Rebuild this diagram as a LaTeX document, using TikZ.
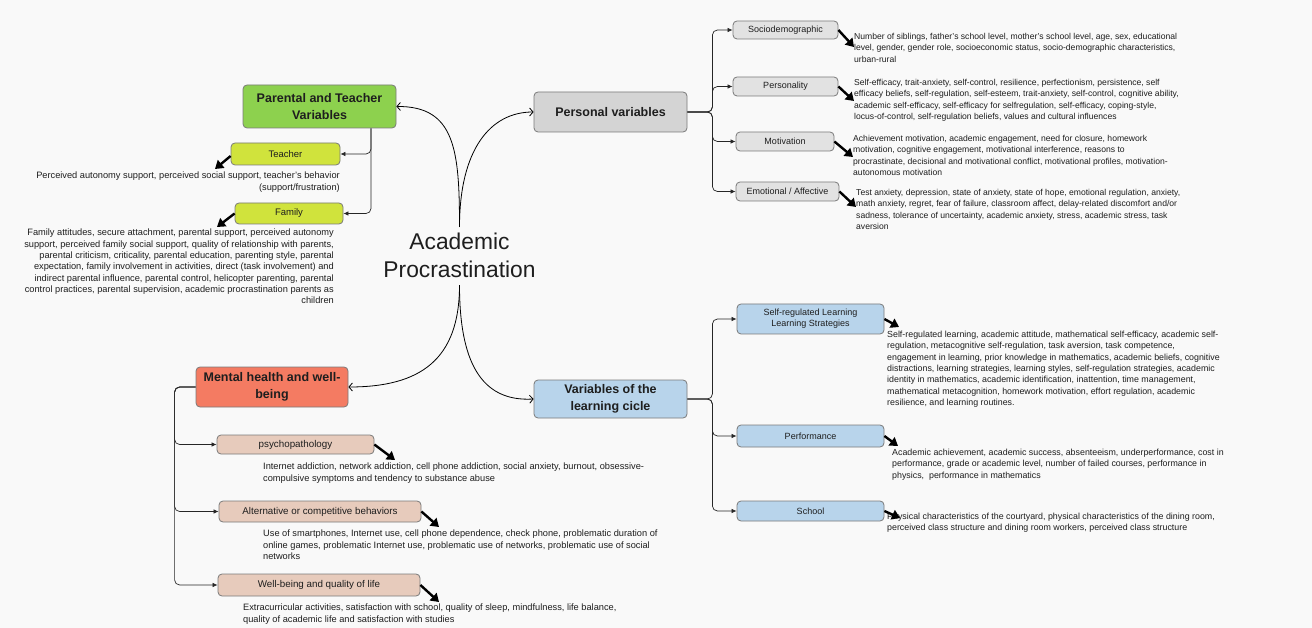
\documentclass[tikz,border=0pt]{standalone}
\usepackage{fontspec}
\setmainfont{Liberation Sans}
\usetikzlibrary{arrows.meta}
\definecolor{bg}{HTML}{F9F9F9}
\definecolor{cgreen}{HTML}{8DD14E}
\definecolor{cyel}{HTML}{D0E33C}
\definecolor{cgray}{HTML}{D4D4D4}
\definecolor{cgrayl}{HTML}{E2E2E2}
\definecolor{cblue}{HTML}{B8D4EB}
\definecolor{cred}{HTML}{F47B62}
\definecolor{ctan}{HTML}{E7CBBC}
\definecolor{cedge}{HTML}{7A7A7A}
\definecolor{ink}{HTML}{1E1E1E}
\tikzset{
  box/.style={draw=cedge, line width=0.8pt, rounded corners=4pt, inner sep=0pt, align=center, text=ink},
  head/.style={box, font=\bfseries\fontsize{12.5}{17}\selectfont},
  sub/.style={box, font=\fontsize{9}{11}\selectfont},
  subL/.style={box, font=\fontsize{9.8}{11}\selectfont},
  txtR/.style={inner sep=0pt, anchor=north west, align=left, text=ink, font=\fontsize{8.6}{11.3}\selectfont},
  txtB/.style={inner sep=0pt, anchor=north west, align=left, text=ink, font=\fontsize{8.85}{11.3}\selectfont},
  txtL/.style={inner sep=0pt, anchor=north west, align=left, text=ink, font=\fontsize{9.25}{11.3}\selectfont},
  branch/.style={draw=black!85, line width=0.7pt, rounded corners=5pt, -{Latex[length=5pt,width=4.5pt]}},
  fat/.style={line width=2.4pt, -{Triangle[length=8pt,width=10pt]}},
  main/.style={line width=0.8pt, -{Straight Barb[length=3.5pt,width=8pt]}}
}
\begin{document}
\begin{tikzpicture}[x=1pt,y=-1pt]
\useasboundingbox (0,0) rectangle (1312,628);
\fill[bg] (0,0) rectangle (1312,628);

% title
\node[inner sep=0pt, anchor=north, align=center, text=ink, font=\fontsize{22.8}{28}\selectfont] (title) at (459.5,233) {Academic\\Procrastination};

% main boxes
\node[head, fill=cgreen, minimum width=153pt, minimum height=43pt] (ptv) at (319.5,106.5) {Parental and Teacher\\Variables};
\node[head, fill=cgray, minimum width=153pt, minimum height=40pt] (pv) at (610.5,112) {Personal variables};
\node[head, fill=cblue, minimum width=153pt, minimum height=38pt] (lc) at (610.5,399) {Variables of the\\learning cicle};
\node[head, fill=cred, minimum width=152pt, minimum height=40pt] (mh) at (272,387) {Mental health and well-\\being};

% main curves
\draw[main] ([yshift=6pt]title.north) .. controls (459.5,150) and (455,106) .. (ptv.east);
\draw[main] ([yshift=6pt]title.north) .. controls (459.5,150) and (490,112) .. (pv.west);
\draw[main] ([yshift=-7pt]title.south) .. controls (459.5,360) and (420,387) .. (mh.east);
\draw[main] ([yshift=-7pt]title.south) .. controls (459.5,360) and (480,402) .. (lc.west);

% parental and teacher
\node[box, font=\fontsize{9.5}{11}\selectfont, fill=cyel, minimum width=109pt, minimum height=22pt] (teach) at (285.5,154) {Teacher};
\node[box, font=\fontsize{9.5}{11}\selectfont, fill=cyel, minimum width=108pt, minimum height=21pt] (fam) at (289,213.5) {Family};
\draw[branch] ([xshift=51.5pt]ptv.south) |- (teach.east);
\draw[branch] ([xshift=51.5pt]ptv.south) |- (fam.east);
\node[txtL, anchor=north east, align=right] (teacht) at (340,172) {Perceived autonomy support, perceived social support, teacher's behavior\\(support/frustration)};
\node[txtL, anchor=north east, align=right] (famt) at (334,229) {Family attitudes, secure attachment, parental support, perceived autonomy\\support, perceived family social support, quality of relationship with parents,\\parental criticism, criticality, parental education, parenting style, parental\\expectation, family involvement in activities, direct (task involvement) and\\indirect parental influence, parental control, helicopter parenting, parental\\control practices, parental supervision, academic procrastination parents as\\children};
\coordinate (e1) at (215,169);
\coordinate (e2) at (217,227);
\draw[fat] ([yshift=-2pt]teach.west) -- (e1);
\draw[fat] (fam.west) -- (e2);

% personal variables
\node[sub, fill=cgrayl, minimum width=105pt, minimum height=18pt] (socio) at (785.5,30) {Sociodemographic};
\node[sub, fill=cgrayl, minimum width=105pt, minimum height=19pt] (pers) at (785.5,86.5) {Personality};
\node[sub, fill=cgrayl, minimum width=98pt, minimum height=19pt] (motiv) at (785,141.5) {Motivation};
\node[sub, fill=cgrayl, minimum width=103pt, minimum height=19pt] (emo) at (787.5,191.5) {Emotional / Affective};
\draw[branch] (pv.east) -- ++(25,0) |- (socio.west);
\draw[branch] (pv.east) -- ++(25,0) |- (pers.west);
\draw[branch] (pv.east) -- ++(25,0) |- (motiv.west);
\draw[branch] (pv.east) -- ++(25,0) |- (emo.west);
\node[txtR] (sociot) at (854,33) {Number of siblings, father's school level, mother's school level, age, sex, educational\\level, gender, gender role, socioeconomic status, socio-demographic characteristics,\\urban-rural};
\node[txtR] (perst) at (854,79) {Self-efficacy, trait-anxiety, self-control, resilience, perfectionism, persistence, self\\efficacy beliefs, self-regulation, self-esteem, trait-anxiety, self-control, cognitive ability,\\academic self-efficacy, self-efficacy for selfregulation, self-efficacy, coping-style,\\locus-of-control, self-regulation beliefs, values and cultural influences};
\node[txtR] (motivt) at (853,135) {Achievement motivation, academic engagement, need for closure, homework\\motivation, cognitive engagement, motivational interference, reasons to\\procrastinate, decisional and motivational conflict, motivational profiles, motivation-\\autonomous motivation};
\node[txtR] (emot) at (856,189) {Test anxiety, depression, state of anxiety, state of hope, emotional regulation, anxiety,\\math anxiety, regret, fear of failure, classroom affect, delay-related discomfort and/or\\sadness, tolerance of uncertainty, academic anxiety, stress, academic stress, task\\aversion};
\coordinate (e3) at (854,47);
\coordinate (e4) at (854,101);
\coordinate (e5) at (853,157);
\coordinate (e6) at (856,207);
\draw[fat] (socio.east) -- (e3);
\draw[fat] (pers.east) -- (e4);
\draw[fat] (motiv.east) -- (e5);
\draw[fat] (emo.east) -- (e6);

% learning cicle
\node[sub, fill=cblue, minimum width=147pt, minimum height=30pt] (srl) at (810.5,319) {Self-regulated Learning\\Learning Strategies};
\node[sub, fill=cblue, minimum width=147pt, minimum height=22pt] (perf) at (810.5,436) {Performance};
\node[sub, fill=cblue, minimum width=147pt, minimum height=20pt] (school) at (810.5,511) {School};
\draw[branch] (lc.east) -- ++(25,0) |- (srl.west);
\draw[branch] (lc.east) -- ++(25,0) |- (perf.west);
\draw[branch] (lc.east) -- ++(25,0) |- (school.west);
\node[txtB] (srlt) at (887,331) {Self-regulated learning, academic attitude, mathematical self-efficacy, academic self-\\regulation, metacognitive self-regulation, task aversion, task competence,\\engagement in learning, prior knowledge in mathematics, academic beliefs, cognitive\\distractions, learning strategies, learning styles, self-regulation strategies, academic\\identity in mathematics, academic identification, inattention, time management,\\mathematical metacognition, homework motivation, effort regulation, academic\\resilience, and learning routines.};
\node[txtB] (perft) at (892,449) {Academic achievement, academic success, absenteeism, underperformance, cost in\\performance, grade or academic level, number of failed courses, performance in\\physics,\ \ performance in mathematics};
\node[txtB] (schoolt) at (887,513) {Physical characteristics of the courtyard, physical characteristics of the dining room,\\perceived class structure and dining room workers, perceived class structure};
\coordinate (e7) at (899,327);
\coordinate (e8) at (898,446);
\coordinate (e9) at (900,518);
\draw[fat] (srl.east) -- (e7);
\draw[fat] (perf.east) -- (e8);
\draw[fat] (school.east) -- (e9);

% mental health
\node[subL, fill=ctan, minimum width=157pt, minimum height=19pt] (psy) at (295.5,444.5) {psychopathology};
\node[subL, fill=ctan, minimum width=202pt, minimum height=21pt] (alt) at (320,511.5) {Alternative or competitive behaviors};
\node[subL, fill=ctan, minimum width=202pt, minimum height=22pt] (wb) at (319,585) {Well-being and quality of life};
\draw[branch] (mh.west) -- ++(-21,0) |- (psy.west);
\draw[branch] (mh.west) -- ++(-21,0) |- (alt.west);
\draw[branch] (mh.west) -- ++(-21,0) |- (wb.west);
\node[txtL] (psyt) at (263,463) {Internet addiction, network addiction, cell phone addiction, social anxiety, burnout, obsessive-\\compulsive symptoms and tendency to substance abuse};
\node[txtL] (altt) at (263,530) {Use of smartphones, Internet use, cell phone dependence, check phone, problematic duration of\\online games, problematic Internet use, problematic use of networks, problematic use of social\\networks};
\node[txtL] (wbt) at (243,604) {Extracurricular activities, satisfaction with school, quality of sleep, mindfulness, life balance,\\quality of academic life and satisfaction with studies};
\coordinate (e10) at (395,460);
\coordinate (e11) at (439,527);
\coordinate (e12) at (439,602);
\draw[fat] (psy.east) -- (e10);
\draw[fat] (alt.east) -- (e11);
\draw[fat] (wb.east) -- (e12);
\end{tikzpicture}
\end{document}
